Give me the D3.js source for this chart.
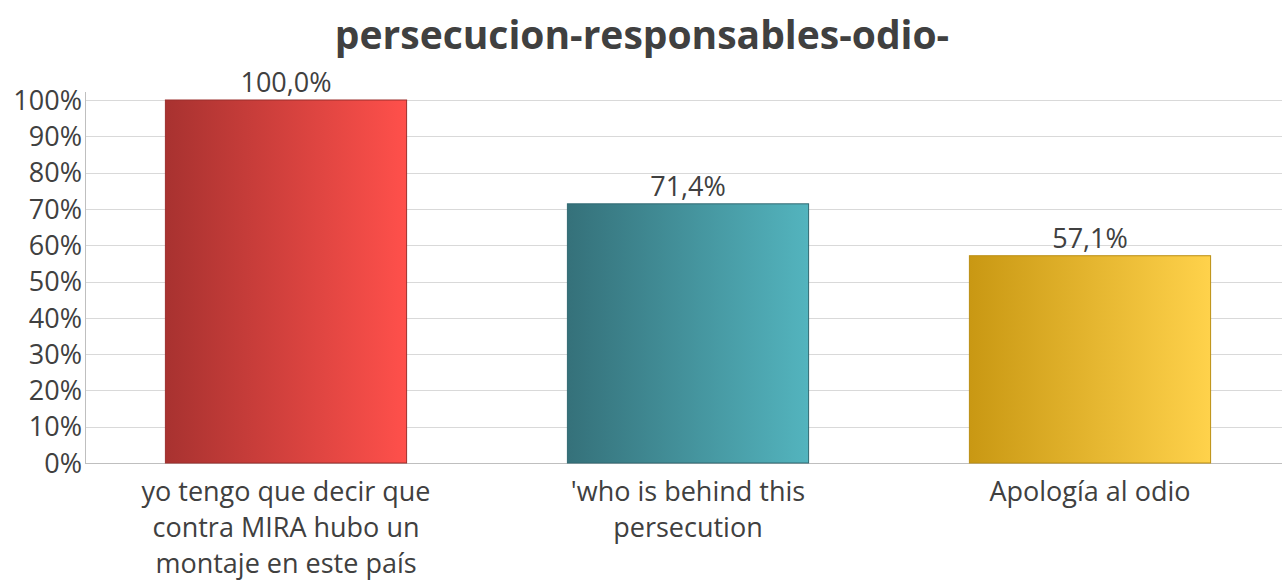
<!DOCTYPE html>
<html>
<head>
<meta charset="utf-8">
<script src="https://cdn.jsdelivr.net/npm/d3@7"></script>
<style>
  body { margin: 0; background: #fff; }
  text { font-family: "Open Sans", "Noto Sans", sans-serif; fill: #404040; }
</style>
</head>
<body>
<div class="chart"></div>
<script>
const title = "persecucion-responsables-odio-";
const categories = [
  ["yo tengo que decir que", "contra MIRA hubo un", "montaje en este país"],
  ["'who is behind this", "persecution"],
  ["Apología al odio"]
];
const values = [100.0, 71.4, 57.1];
const colorsFrom = ["#a83230", "#35717a", "#c99813"];
const colorsTo = ["#ff504b", "#53b4be", "#ffd24b"];
const yTicks = [0, 10, 20, 30, 40, 50, 60, 70, 80, 90, 100];

let width = 1282;
let height = 583;

const svg = d3.select(".chart")
  .append("svg")
  .attr("width", width)
  .attr("height", height);

let left = 85;
let x = d3.scaleBand()
  .domain(d3.range(values.length))
  .range([left, left + 1206])
  .paddingInner(0.4)
  .paddingOuter(0.2);

let y = d3.scaleLinear()
  .domain([0, 100])
  .range([463, 100]);

// gradients
let defs = svg.append("defs");
values.forEach((v, i) => {
  let g = defs.append("linearGradient")
    .attr("id", "grad" + i)
    .attr("x1", "0%").attr("x2", "100%")
    .attr("y1", "0%").attr("y2", "0%");
  g.append("stop").attr("offset", "0%").attr("stop-color", colorsFrom[i]);
  g.append("stop").attr("offset", "100%").attr("stop-color", colorsTo[i]);
});

// grid
svg.append("g")
  .selectAll("line")
  .data(yTicks)
  .enter()
  .append("line")
  .attr("x1", left)
  .attr("x2", width)
  .attr("y1", d => Math.round(y(d)) + 0.5)
  .attr("y2", d => Math.round(y(d)) + 0.5)
  .attr("stroke", d => d == 0 ? "#bfbfbf" : "#d9d9d9")
  .attr("stroke-width", 1);

// y axis line
svg.append("line")
  .attr("x1", left + 0.5).attr("x2", left + 0.5)
  .attr("y1", y(100) - 8).attr("y2", y(0))
  .attr("stroke", "#bfbfbf");

svg.append("g")
  .selectAll("text")
  .data(yTicks)
  .enter()
  .append("text")
  .attr("x", left - 3)
  .attr("y", d => y(d))
  .attr("dy", "0.36em")
  .attr("text-anchor", "end")
  .style("font-size", "27px")
  .text(d => d + "%");

// bars
svg.append("g")
  .selectAll("rect")
  .data(values)
  .enter()
  .append("rect")
  .attr("x", (d, i) => x(i))
  .attr("width", x.bandwidth())
  .attr("y", d => y(d))
  .attr("height", d => y(0) - y(d))
  .attr("fill", (d, i) => "url(#grad" + i + ")")
  .attr("stroke", (d, i) => d3.color(colorsFrom[i]).darker(0.2))
  .attr("stroke-width", 1);

// value labels
svg.append("g")
  .selectAll("text")
  .data(values)
  .enter()
  .append("text")
  .attr("x", (d, i) => x(i) + x.bandwidth() / 2)
  .attr("y", d => y(d) - 8)
  .attr("text-anchor", "middle")
  .style("font-size", "27px")
  .text(d => d.toFixed(1).replace(".", ",") + "%");

// category labels
let cat = svg.append("g")
  .selectAll("text")
  .data(categories)
  .enter()
  .append("text")
  .attr("x", (d, i) => x(i) + x.bandwidth() / 2)
  .attr("y", 501)
  .attr("text-anchor", "middle")
  .style("font-size", "27px");

cat.selectAll("tspan")
  .data(d => d)
  .enter()
  .append("tspan")
  .attr("x", function() { return d3.select(this.parentNode).attr("x"); })
  .attr("dy", (d, i) => i == 0 ? 0 : 36)
  .text(d => d);

// title
svg.append("text")
  .attr("x", 642)
  .attr("y", 49)
  .attr("text-anchor", "middle")
  .style("font-size", "39px")
  .style("font-weight", "bold")
  .text(title);
</script>
</body>
</html>
